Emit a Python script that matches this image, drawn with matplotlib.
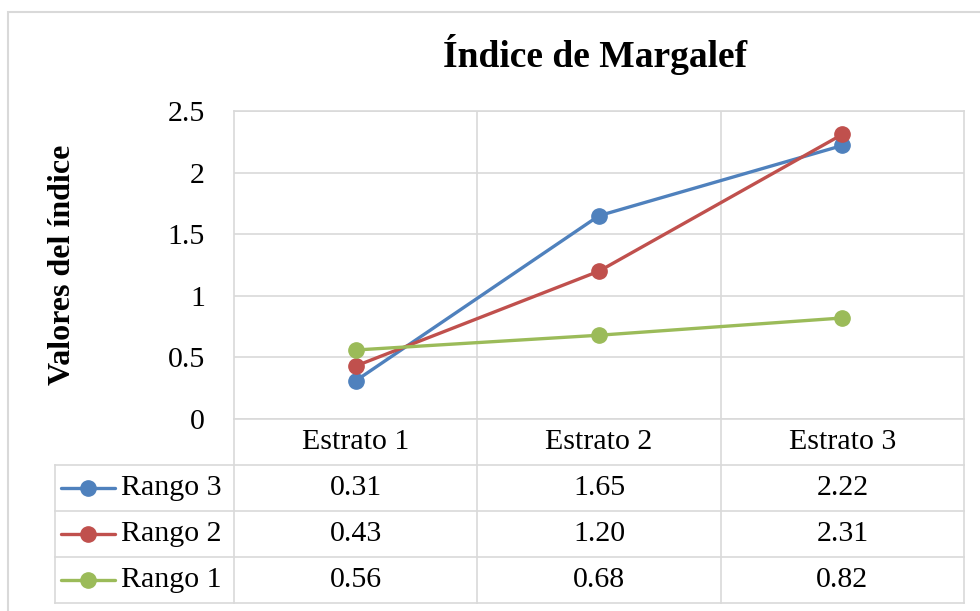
import matplotlib
matplotlib.use('Agg')
import matplotlib.pyplot as plt
from matplotlib.patches import Rectangle

categories = ['Estrato 1', 'Estrato 2', 'Estrato 3']
series_names = ['Rango 3', 'Rango 2', 'Rango 1']
rango3 = [0.31, 1.65, 2.22]
rango2 = [0.43, 1.20, 2.31]
rango1 = [0.56, 0.68, 0.82]
yticks = [0, 0.5, 1, 1.5, 2, 2.5]
ytick_labels = ['0', '0.5', '1', '1.5', '2', '2.5']
title = 'Índice de Margalef'
ylabel = 'Valores del índice'
colors = ['#4F81BD', '#C0504D', '#9BBB59']

series = [rango3, rango2, rango1]
value_text = [[f'{v:.2f}' for v in s] for s in series]

W, H = 980, 611
SERIF = ['Liberation Serif', 'DejaVu Serif']
GRID = '#d9d9d9'
FS = 21.5
LW = 2.4
MS = 11

fig = plt.figure(figsize=(W / 100, H / 100), dpi=100)


def rect(l, t, r, b):
    return [l / W, 1 - b / H, (r - l) / W, (b - t) / H]


# outer chart border
fig.patches.append(Rectangle((8 / W, -0.05), 1.1, 1 - 12 / H + 0.05,
                             transform=fig.transFigure, fill=False,
                             edgecolor=GRID, lw=1.5))

# plot area
L, T, R, B = 234, 111, 964, 419
ax = fig.add_axes(rect(L, T, R, B))
x = list(range(len(categories)))
for s, c, n in zip(series, colors, series_names):
    ax.plot(x, s, color=c, lw=LW, marker='o', markersize=MS,
            solid_capstyle='round', label=n, zorder=3)
ax.set_xlim(-0.5, len(categories) - 0.5)
ax.set_ylim(0, 2.5)
ax.set_yticks(yticks)
ax.set_yticklabels(ytick_labels, fontfamily=SERIF, fontsize=FS)
ax.set_xticks([i + 0.5 for i in range(len(categories) - 1)])
ax.set_xticklabels([])
ax.tick_params(axis='both', length=0)
ax.tick_params(axis='y', pad=21)
ax.grid(True, color=GRID, lw=1.2, zorder=0)
for sp in ax.spines.values():
    sp.set_color(GRID)
    sp.set_linewidth(1.2)

# data table
TL, TB = 55, 603
cat_px = (R - L) / len(categories)
xl = -0.5 - (L - TL) / cat_px
tax = fig.add_axes(rect(TL, B, R, TB))
tax.set_xlim(xl, len(categories) - 0.5)
tax.set_ylim(4, 0)
tax.axis('off')
lkw = dict(color=GRID, lw=1.2, clip_on=False)
for yy in [1, 2, 3, 4]:
    tax.plot([xl, len(categories) - 0.5], [yy, yy], **lkw)
for xx in [i - 0.5 for i in range(len(categories) + 1)]:
    tax.plot([xx, xx], [0, 4], **lkw)
tax.plot([xl, xl], [1, 4], **lkw)

for i, cat in enumerate(categories):
    tax.text(i, 0.5, cat, ha='center', va='center', fontfamily=SERIF, fontsize=FS)


def px2x(px):
    return -0.5 - (L - px) / cat_px


for r, (n, c, vt) in enumerate(zip(series_names, colors, value_text)):
    yy = r + 1.5
    tax.plot([px2x(61), px2x(115)], [yy, yy], color=c, lw=LW,
             solid_capstyle='round', clip_on=False)
    tax.plot([px2x(88)], [yy], marker='o', color=c, markersize=MS, clip_on=False)
    tax.text(px2x(121), yy, n, ha='left', va='center', fontfamily=SERIF, fontsize=FS)
    for i, t in enumerate(vt):
        tax.text(i, yy, t, ha='center', va='center', fontfamily=SERIF, fontsize=FS)

fig.text(595 / W, 1 - 67 / H, title, ha='center', va='baseline',
         fontfamily=SERIF, fontsize=27, fontweight='bold')
fig.text(62 / W, 1 - 265 / H, ylabel, ha='center', va='center', rotation=90,
         fontfamily=SERIF, fontsize=23, fontweight='bold')

fig.savefig('out.png', dpi=100)
